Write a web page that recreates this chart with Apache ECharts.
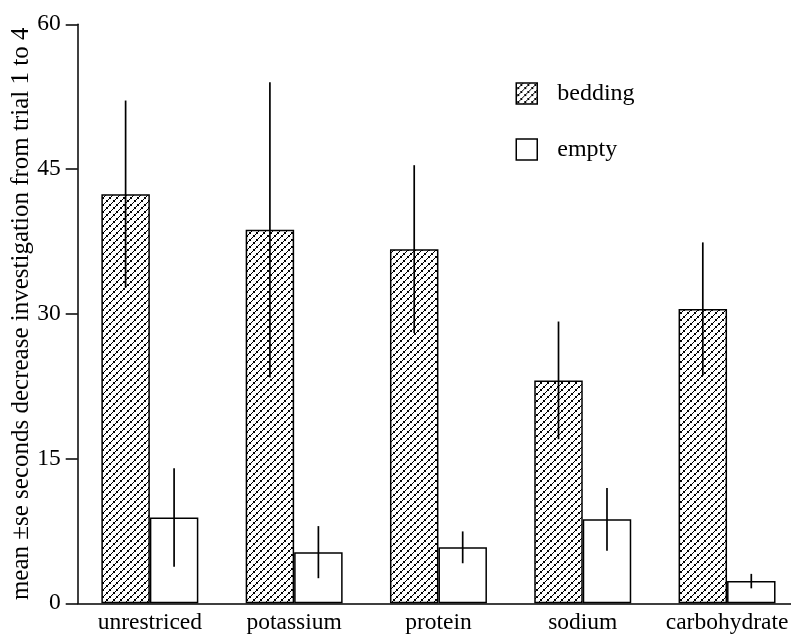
<!DOCTYPE html>
<html>
<head>
<meta charset="utf-8">
<script src="https://cdn.jsdelivr.net/npm/echarts@6/dist/echarts.min.js"></script>
<style>html,body{margin:0;padding:0;background:#fff;overflow:hidden}#c{width:800px;height:635px}</style>
</head>
<body>
<div id="c"></div>
<script>
const categories = ['unrestriced', 'potassium', 'protein', 'sodium', 'carbohydrate'];
const bedding = [42.4, 38.7, 36.7, 23.1, 30.5];
const beddingSe = [9.7, 15.3, 8.7, 6.1, 6.9];
const empty = [8.9, 5.3, 5.8, 8.7, 2.3];
const emptySe = [5.1, 2.7, 1.65, 3.25, 0.75];
const yTicks = [0, 15, 30, 45, 60];

function makePattern() {
  const s = 7;
  const c = document.createElement('canvas');
  c.width = s; c.height = s;
  const g = c.getContext('2d');
  g.fillStyle = '#fff';
  g.fillRect(0, 0, s, s);
  g.strokeStyle = '#000';
  g.lineWidth = 1;
  g.beginPath();
  g.moveTo(-1, s + 1); g.lineTo(s + 1, -1);
  g.stroke();
  g.fillStyle = '#000';
  g.fillRect(1, 4, 2, 2);
  g.fillRect(4, 1, 2, 2);
  return c;
}
const pattern = { image: makePattern(), repeat: 'repeat' };

const catGapRatio = 0.328;
function errSeries(name, means, ses, side) {
  return {
    type: 'custom',
    name: name + '_err',
    z: 10,
    silent: true,
    data: means.map((m, i) => [i, m - ses[i], m + ses[i]]),
    renderItem: function (params, api) {
      const cw = api.size([1, 0])[0];
      const bw = cw * (1 - catGapRatio) / 2;
      const lo = api.coord([api.value(0), api.value(1)]);
      const hi = api.coord([api.value(0), api.value(2)]);
      const x = lo[0] + side * bw / 2;
      return {
        type: 'line',
        shape: { x1: x, y1: lo[1], x2: x, y2: hi[1] },
        style: { stroke: '#000', lineWidth: 1.7 }
      };
    }
  };
}

const chart = echarts.init(document.getElementById('c'));
const serif = 'Liberation Serif';
chart.setOption({
  animation: false,
  backgroundColor: '#fff',
  textStyle: { fontFamily: serif },
  grid: { left: 77.7, top: 24.3, bottom: 31.7, right: 0.8, containLabel: false, outerBoundsMode: 'none' },
  legend: {
    data: [{ name: 'bedding', icon: 'rect' }, { name: 'empty', icon: 'rect' }],
    orient: 'vertical',
    left: 510.5,
    top: 76.5,
    itemWidth: 21,
    itemHeight: 21,
    itemGap: 32,
    textStyle: { fontFamily: serif, fontSize: 24, color: '#000', padding: [0, 0, 0, 15] },
    itemStyle: { borderColor: '#000', borderWidth: 1.5 }
  },
  xAxis: {
    type: 'category',
    data: categories,
    axisLine: { lineStyle: { color: '#000', width: 1.5 } },
    axisTick: { show: false },
    axisLabel: { color: '#000', fontSize: 23.5, fontFamily: serif, margin: 8, interval: 0 }
  },
  yAxis: {
    type: 'value',
    min: yTicks[0],
    max: yTicks[yTicks.length - 1],
    interval: 15,
    name: 'mean \u00b1se seconds decrease investigation from trial 1 to 4',
    nameLocation: 'middle',
    nameGap: 44,
    nameMoveOverlap: false,
    nameTextStyle: { color: '#000', fontSize: 25, fontFamily: serif },
    axisLine: { show: true, lineStyle: { color: '#000', width: 1.5 } },
    axisTick: { show: true, length: 12, lineStyle: { color: '#000', width: 1.5 } },
    axisLabel: { color: '#000', fontSize: 23.5, fontFamily: serif, margin: 17 },
    splitLine: { show: false }
  },
  series: [
    {
      name: 'bedding', type: 'bar', data: bedding,
      barGap: '0%', barCategoryGap: (catGapRatio * 100) + '%',
      itemStyle: { color: pattern, borderColor: '#000', borderWidth: 1.5 }
    },
    {
      name: 'empty', type: 'bar', data: empty,
      itemStyle: { color: '#fff', borderColor: '#000', borderWidth: 1.5 }
    },
    errSeries('bedding', bedding, beddingSe, -1),
    errSeries('empty', empty, emptySe, 1)
  ]
});
</script>
</body>
</html>
